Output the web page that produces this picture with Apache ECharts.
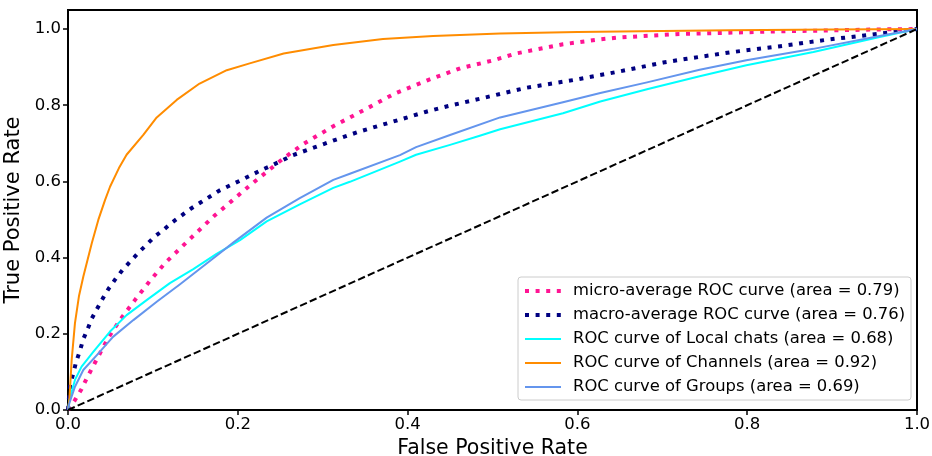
<!DOCTYPE html>
<html>
<head>
<meta charset="utf-8">
<title>ROC curves</title>
<script src="https://cdn.jsdelivr.net/npm/echarts@6/dist/echarts.min.js"></script>
<style>
  html, body { margin: 0; padding: 0; background: #fff; }
  #chart { width: 932px; height: 456px; }
</style>
</head>
<body>
<div id="chart"></div>
<script>
// ROC points as [false positive rate, true positive rate]
const microRoc = [[0,0],[0.0082,0.026],[0.016,0.055],[0.022,0.083],[0.0346,0.136],[0.0475,0.19],[0.0624,0.24],[0.079,0.289],[0.0958,0.337],[0.114,0.385],[0.133,0.426],[0.1516,0.466],[0.172,0.509],[0.193,0.549],[0.214,0.589],[0.234,0.625],[0.254,0.661],[0.277,0.698],[0.3125,0.745],[0.35,0.789],[0.385,0.831],[0.424,0.866],[0.462,0.897],[0.501,0.918],[0.528,0.936],[0.583,0.96],[0.627,0.973],[0.65,0.978],[0.72,0.987],[0.839,0.994],[0.956,0.999],[1,1]];
const macroRoc = [[0,0],[0.0015,0.04],[0.0024,0.066],[0.0063,0.096],[0.0094,0.125],[0.014,0.155],[0.018,0.186],[0.023,0.212],[0.028,0.24],[0.0346,0.267],[0.041,0.293],[0.048,0.319],[0.056,0.344],[0.064,0.367],[0.073,0.389],[0.083,0.413],[0.093,0.435],[0.102,0.455],[0.113,0.474],[0.123,0.493],[0.134,0.511],[0.145,0.529],[0.157,0.546],[0.179,0.577],[0.2045,0.604],[0.228,0.63],[0.241,0.643],[0.265,0.669],[0.291,0.69],[0.316,0.71],[0.342,0.73],[0.369,0.748],[0.395,0.765],[0.422,0.783],[0.448,0.798],[0.487,0.818],[0.54,0.846],[0.595,0.866],[0.648,0.888],[0.701,0.912],[0.729,0.922],[0.784,0.94],[0.839,0.955],[0.894,0.972],[0.945,0.985],[1,1]];
const localChatsRoc = [[0,0],[0.0016,0.026],[0.0082,0.079],[0.016,0.114],[0.03,0.153],[0.0495,0.206],[0.069,0.249],[0.093,0.289],[0.12,0.333],[0.1476,0.37],[0.175,0.41],[0.2026,0.446],[0.234,0.495],[0.273,0.54],[0.3125,0.583],[0.332,0.599],[0.391,0.652],[0.41,0.67],[0.45,0.696],[0.485,0.72],[0.509,0.737],[0.583,0.779],[0.627,0.81],[0.682,0.842],[0.744,0.876],[0.799,0.905],[0.878,0.94],[0.956,0.979],[1,1]];
const channelsRoc = [[0,0],[0.0016,0.026],[0.0043,0.131],[0.0082,0.228],[0.013,0.3],[0.018,0.35],[0.028,0.4375],[0.0357,0.499],[0.0436,0.551],[0.0495,0.586],[0.06,0.635],[0.069,0.67],[0.0887,0.722],[0.1045,0.768],[0.128,0.814],[0.155,0.857],[0.187,0.892],[0.214,0.91],[0.254,0.936],[0.3125,0.958],[0.371,0.974],[0.43,0.982],[0.509,0.988],[0.6,0.992],[0.7,0.995],[0.78,0.997],[0.9,0.999],[1,1]];
const groupsRoc = [[0,0],[0.0016,0.018],[0.0082,0.061],[0.018,0.105],[0.034,0.144],[0.053,0.192],[0.077,0.236],[0.1045,0.284],[0.132,0.33],[0.155,0.37],[0.175,0.405],[0.195,0.44],[0.234,0.505],[0.273,0.556],[0.3125,0.604],[0.332,0.62],[0.391,0.669],[0.41,0.69],[0.45,0.722],[0.509,0.768],[0.583,0.808],[0.627,0.832],[0.682,0.86],[0.744,0.893],[0.799,0.918],[0.878,0.948],[0.956,0.982],[1,1]];
const chanceLine = [[0,0],[1,1]];

const classNames = ['Local chats', 'Channels', 'Groups'];
const classAreas = [0.68, 0.92, 0.69];
const microArea = 0.79;
const macroArea = 0.76;
const tickValues = [0, 0.2, 0.4, 0.6, 0.8, 1.0];

const FONT = 'DejaVu Sans';
const dotted = [4, 6.6];
const dashed = [7.4, 3.2];

const names = [
  'micro-average ROC curve (area = ' + microArea.toFixed(2) + ')',
  'macro-average ROC curve (area = ' + macroArea.toFixed(2) + ')'
].concat(classNames.map((c, i) => 'ROC curve of ' + c + ' (area = ' + classAreas[i].toFixed(2) + ')'));

const classData = [localChatsRoc, channelsRoc, groupsRoc];
const classColors = ['#00ffff', '#ff8c00', '#6495ed'];

function curve(name, data, color, width, type) {
  return {
    name: name, type: 'line', data: data, symbol: 'none', smooth: false,
    silent: true, animation: false,
    lineStyle: { color: color, width: width, type: type, cap: 'butt', join: 'round' },
    itemStyle: { color: color }
  };
}

const series = [
  curve(names[0], microRoc, '#ff1493', 4, dotted),
  curve(names[1], macroRoc, '#000080', 4, dotted)
];
classData.forEach((d, i) => series.push(curve(names[i + 2], d, classColors[i], 2, 'solid')));
series.push(curve('chance', chanceLine, '#000000', 2, dashed));

// legend handles: thick dotted for the averages, thin solid for the classes
const legendData = names.map((n, i) => ({
  name: n,
  lineStyle: { width: i < 2 ? 4 : 2, type: i < 2 ? dotted : 'solid', cap: 'butt' }
}));

const axisCommon = {
  type: 'value',
  nameLocation: 'middle',
  axisLine: { show: true, onZero: false, lineStyle: { color: '#000', width: 2 } },
  axisTick: { show: true, length: 5, lineStyle: { color: '#000', width: 1.5 }, customValues: tickValues },
  axisLabel: { fontFamily: FONT, fontSize: 16.5, color: '#000', customValues: tickValues,
               formatter: v => v.toFixed(1) },
  splitLine: { show: false }
};

const option = {
  backgroundColor: '#ffffff',
  animation: false,
  grid: { left: 68, right: 15, top: 10, bottom: 46, show: true, borderColor: '#000', borderWidth: 2,
          containLabel: false, outerBoundsMode: 'none' },
  xAxis: Object.assign({}, axisCommon, {
    min: 0, max: 1, name: 'False Positive Rate', nameGap: 18,
    nameTextStyle: { fontFamily: FONT, fontSize: 20.5, color: '#000' },
    axisLabel: Object.assign({}, axisCommon.axisLabel, { margin: 6 })
  }),
  yAxis: Object.assign({}, axisCommon, {
    min: 0, max: 1.05, name: 'True Positive Rate', nameGap: 35,
    nameTextStyle: { fontFamily: FONT, fontSize: 21, color: '#000' },
    axisLabel: Object.assign({}, axisCommon.axisLabel, { margin: 7 })
  }),
  legend: {
    data: legendData,
    orient: 'vertical',
    left: 518, top: 277,
    itemWidth: 36, itemHeight: 16, itemGap: 8,
    padding: [6, 6, 5, 5],
    selectedMode: false,
    backgroundColor: 'rgba(255,255,255,0.8)',
    borderColor: '#cccccc', borderWidth: 1, borderRadius: 3,
    itemStyle: { opacity: 0 },
    textStyle: { fontFamily: FONT, fontSize: 16.4, color: '#000', lineHeight: 16, padding: [0, 0, 0, 7] }
  },
  series: series
};

const chart = echarts.init(document.getElementById('chart'), null, { renderer: 'canvas' });
chart.setOption(option);
</script>
</body>
</html>
